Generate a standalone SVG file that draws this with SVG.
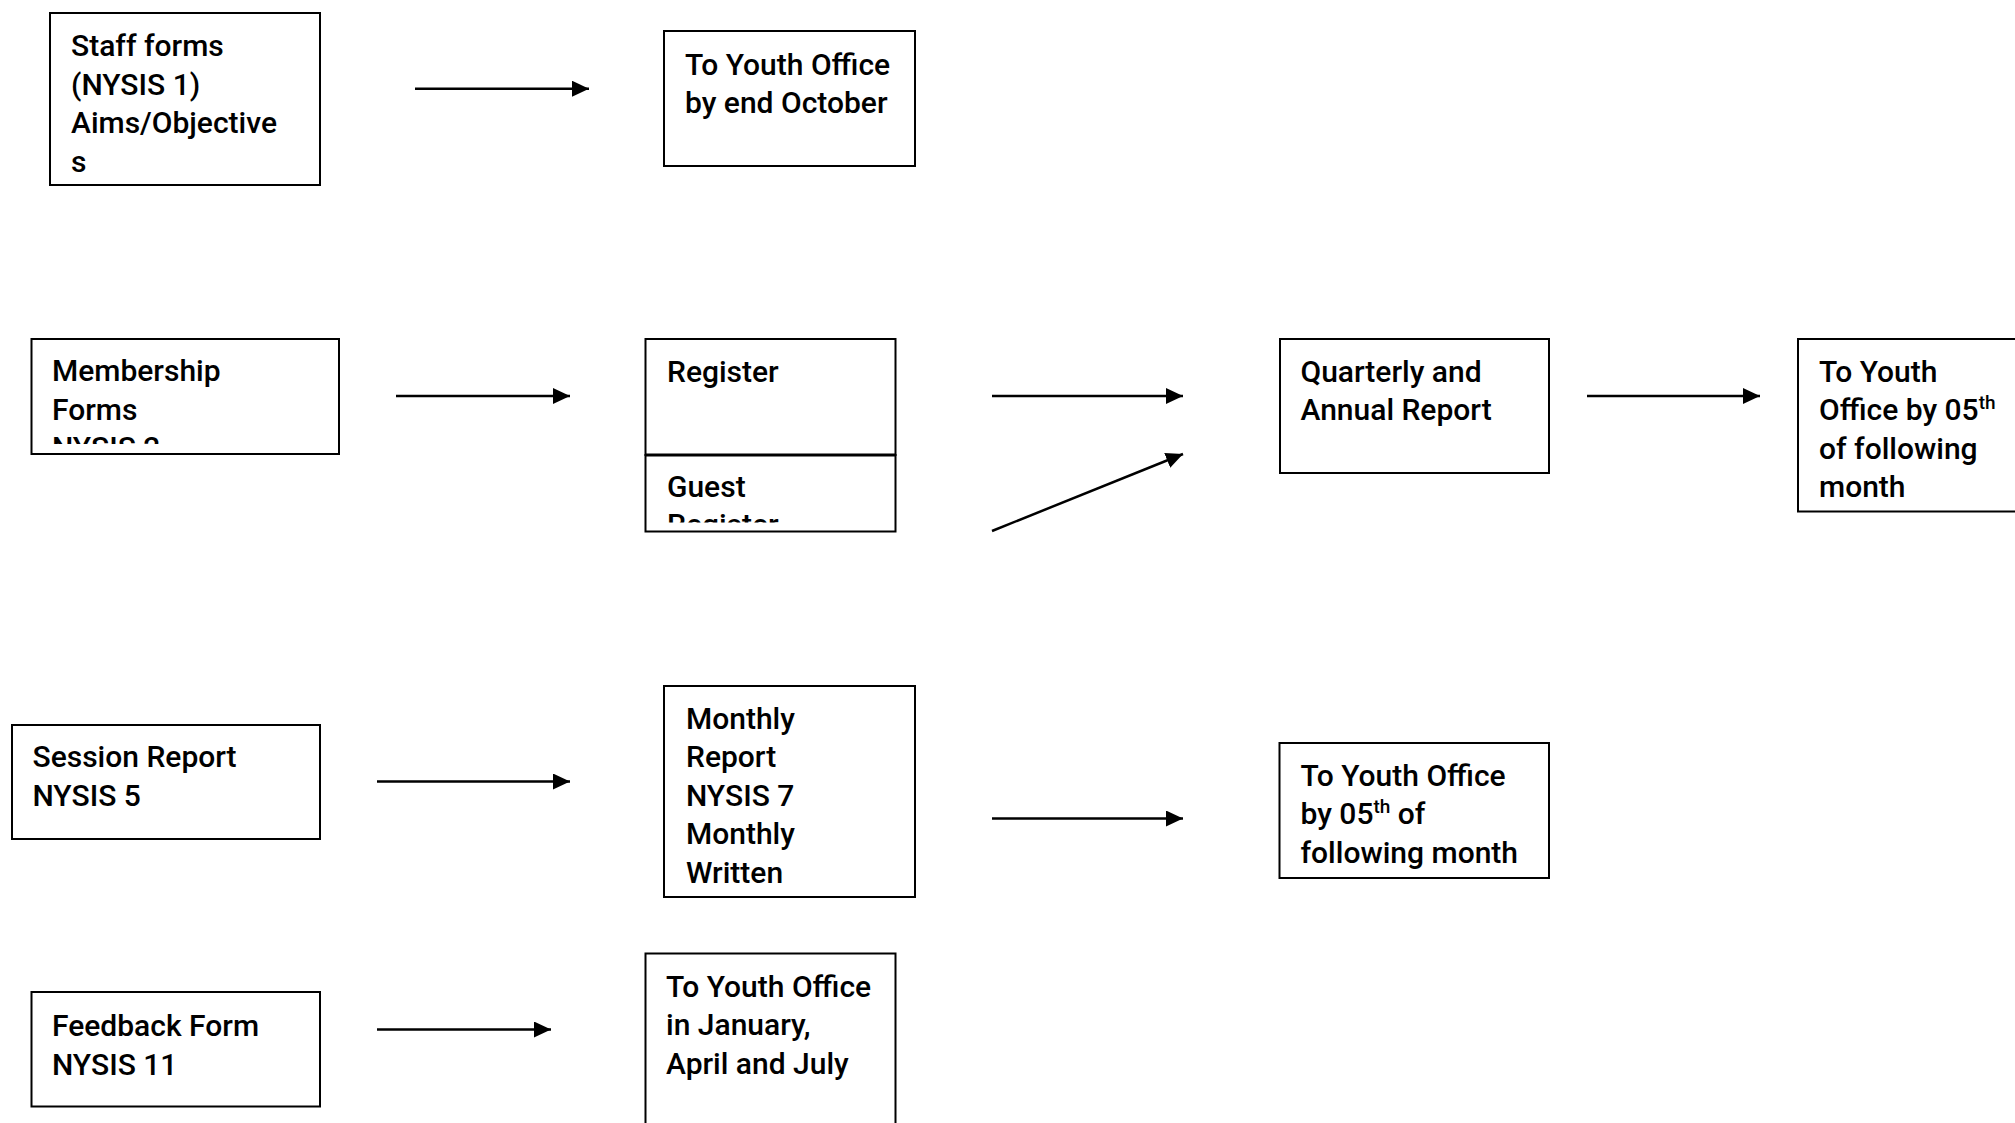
<svg xmlns="http://www.w3.org/2000/svg" width="2015" height="1123" viewBox="0 0 2015 1123">
<style>
.box{fill:#fff;stroke:#000;stroke-width:2}
.t{font-family:Roboto,"Liberation Sans",sans-serif;font-size:30px;font-weight:500;fill:#000}
.c{stroke:#000;stroke-width:2.5;fill:none;marker-end:url(#ah)}
.sup{font-size:19px}
</style>
<defs>
<marker id="ah" markerUnits="userSpaceOnUse" markerWidth="17" markerHeight="16" refX="17" refY="8" orient="auto">
<path d="M0,0 L17,8 L0,16 z" fill="#000"/>
</marker>
<clipPath id="clipMem"><rect x="31" y="338" width="308" height="106"/></clipPath>
<clipPath id="clipGuest"><rect x="645" y="455" width="251" height="67.5"/></clipPath>
</defs>
<rect width="2015" height="1123" fill="#fff"/>

<g id="staff-forms">
<rect class="box" x="50" y="13" width="270" height="172"/>
<text class="t" x="71" y="56">Staff forms</text>
<text class="t" x="71" y="94.5">(NYSIS 1)</text>
<text class="t" x="71" y="133">Aims/Objective</text>
<text class="t" x="71" y="171.5">s</text>
</g>

<g id="youth-office-october">
<rect class="box" x="664" y="31" width="251" height="135"/>
<text class="t" x="685" y="74.5">To Youth Office</text>
<text class="t" x="685" y="113">by end October</text>
</g>

<g id="membership-forms">
<rect class="box" x="31.5" y="339" width="307.5" height="115"/>
<g clip-path="url(#clipMem)">
<text class="t" x="52" y="380.5">Membership</text>
<text class="t" x="52" y="419.5">Forms</text>
<text class="t" x="52" y="458">NYSIS 2</text>
</g>
</g>

<g id="register">
<rect class="box" x="645.5" y="339" width="250" height="116"/>
<text class="t" x="667" y="381.5">Register</text>
</g>

<g id="guest-register">
<rect class="box" x="645.5" y="455" width="250" height="76.5"/>
<line x1="645.5" y1="455" x2="895.5" y2="455" stroke="#000" stroke-width="3"/>
<g clip-path="url(#clipGuest)">
<text class="t" x="667" y="496.5">Guest</text>
<text class="t" x="667" y="535">Register</text>
</g>
</g>

<g id="quarterly-annual">
<rect class="box" x="1280" y="339" width="269" height="134"/>
<text class="t" x="1300.5" y="381.5">Quarterly and</text>
<text class="t" x="1300.5" y="420">Annual Report</text>
</g>

<g id="youth-office-05th-top">
<rect class="box" x="1798" y="339" width="240" height="172.5"/>
<text class="t" x="1819" y="381.5">To Youth</text>
<text class="t" x="1819" y="420">Office by 05<tspan class="sup" dy="-11">th</tspan></text>
<text class="t" x="1819" y="458.5">of following</text>
<text class="t" x="1819" y="497">month</text>
</g>

<g id="session-report">
<rect class="box" x="12" y="725" width="308" height="114"/>
<text class="t" x="32.5" y="767">Session Report</text>
<text class="t" x="32.5" y="805.5">NYSIS 5</text>
</g>

<g id="monthly-report">
<rect class="box" x="664" y="686" width="251" height="211"/>
<text class="t" x="686" y="728.5">Monthly</text>
<text class="t" x="686" y="767">Report</text>
<text class="t" x="686" y="805.5">NYSIS 7</text>
<text class="t" x="686" y="844">Monthly</text>
<text class="t" x="686" y="882.5">Written</text>
</g>

<g id="youth-office-05th-bottom">
<rect class="box" x="1279.5" y="743" width="269.5" height="135"/>
<text class="t" x="1300.5" y="785.5">To Youth Office</text>
<text class="t" x="1300.5" y="824">by 05<tspan class="sup" dy="-11">th</tspan><tspan dy="11"> of</tspan></text>
<text class="t" x="1300.5" y="862.5">following month</text>
</g>

<g id="feedback-form">
<rect class="box" x="31.5" y="992" width="288.5" height="114.5"/>
<text class="t" x="52" y="1036">Feedback Form</text>
<text class="t" x="52" y="1074.5">NYSIS 11</text>
</g>

<g id="youth-office-quarterly">
<rect class="box" x="645.5" y="953.5" width="250" height="190"/>
<text class="t" x="666" y="996.5">To Youth Office</text>
<text class="t" x="666" y="1035">in January,</text>
<text class="t" x="666" y="1073.5">April and July</text>
</g>

<g id="connectors">
<line class="c" x1="415" y1="88.7" x2="589" y2="88.7"/>
<line class="c" x1="396" y1="396" x2="570" y2="396"/>
<line class="c" x1="992" y1="396" x2="1183" y2="396"/>
<line class="c" x1="992" y1="531" x2="1183" y2="454"/>
<line class="c" x1="1587" y1="396" x2="1760" y2="396"/>
<line class="c" x1="377" y1="781.5" x2="570" y2="781.5"/>
<line class="c" x1="992" y1="818.5" x2="1183" y2="818.5"/>
<line class="c" x1="377" y1="1029.5" x2="551" y2="1029.5"/>
</g>
</svg>
